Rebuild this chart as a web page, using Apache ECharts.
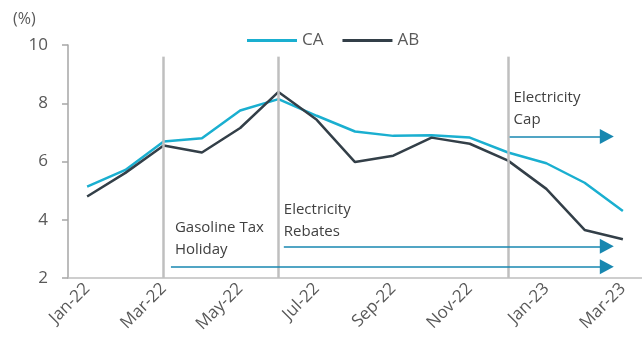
<!DOCTYPE html>
<html>
<head>
<meta charset="utf-8">
<script src="https://cdn.jsdelivr.net/npm/echarts@6/dist/echarts.min.js"></script>
<style>
  html, body { margin: 0; padding: 0; background: #fff; }
  #chart { width: 642px; height: 348px; }
</style>
</head>
<body>
<div id="chart"></div>
<script>
// months
var cats = ['Jan-22', 'Feb-22', 'Mar-22', 'Apr-22', 'May-22', 'Jun-22', 'Jul-22', 'Aug-22',
            'Sep-22', 'Oct-22', 'Nov-22', 'Dec-22', 'Jan-23', 'Feb-23', 'Mar-23'];
// inflation, %
var ca = [5.14, 5.71, 6.69, 6.80, 7.75, 8.14, 7.57, 7.03, 6.88, 6.90, 6.82, 6.31, 5.94, 5.27, 4.30];
var ab = [4.80, 5.61, 6.55, 6.31, 7.15, 8.39, 7.43, 5.98, 6.20, 6.82, 6.61, 6.03, 5.06, 3.65, 3.33];
var yTicks = [2, 4, 6, 8, 10];

// policy events
var eventCats = ['Mar-22', 'Jun-22', 'Dec-22'];
var eventNames = [['Gasoline Tax', 'Holiday'], ['Electricity', 'Rebates'], ['Electricity', 'Cap']];
var arrowStart = [2.19, 5.14, 11.04];   // category index units
var arrowLevel = [2.39, 3.09, 6.86];
var arrowEnd = 13.58;
var eventTop = 9.6;

var chart = echarts.init(document.getElementById('chart'));

var vLines = [];
var arrows = [];
for (var i = 0; i < eventCats.length; i++) {
  var ix = cats.indexOf(eventCats[i]);
  vLines.push([{ coord: [ix, eventTop] }, { coord: [ix, yTicks[0]] }]);
  arrows.push([{ coord: [arrowStart[i], arrowLevel[i]] }, { coord: [arrowEnd, arrowLevel[i]] }]);
}

var font = '"Open Sans", sans-serif';

var option = {
  animation: false,
  grid: { left: 68, right: 0, top: 45, bottom: 70 },
  legend: {
    data: ['CA', 'AB'],
    left: 242, top: 27,
    icon: 'rect', itemWidth: 50, itemHeight: 3, itemGap: 19,
    textStyle: { fontSize: 17, color: '#595959', fontFamily: font }
  },
  xAxis: [{
    type: 'category',
    data: cats,
    boundaryGap: true,
    axisLine: { lineStyle: { color: '#bfbfbf', width: 1.5 } },
    axisTick: { interval: 1, length: 6, lineStyle: { color: '#bfbfbf', width: 1.5 } },
    axisLabel: { interval: 1, rotate: 45, margin: 8, fontSize: 17, color: '#595959', fontFamily: font }
  }, {
    type: 'value', show: false, min: -0.5, max: cats.length - 0.5
  }],
  yAxis: {
    type: 'value',
    min: yTicks[0], max: yTicks[yTicks.length - 1], interval: 2,
    splitLine: { show: false },
    axisLine: { show: true, onZero: false, lineStyle: { color: '#a6a6a6', width: 1.5 } },
    axisTick: { show: true, length: 6, lineStyle: { color: '#a6a6a6', width: 1.5 } },
    axisLabel: { margin: 20, fontSize: 17, color: '#595959', fontFamily: font }
  },
  series: [
    {
      name: 'events', type: 'line', xAxisIndex: 1, data: [], silent: true, z: 1,
      markLine: {
        silent: true, symbol: ['none', 'none'], animation: false,
        label: { show: false },
        lineStyle: { color: '#bfbfbf', width: 2.5, type: 'solid' },
        data: vLines
      }
    },
    {
      name: 'arrows', type: 'line', xAxisIndex: 1, data: [], silent: true, z: 1,
      markLine: {
        silent: true, symbol: ['none', 'triangle'], symbolSize: [15, 14], animation: false,
        label: { show: false },
        lineStyle: { color: '#1787b0', width: 1.5, type: 'solid' },
        data: arrows
      }
    },
    {
      name: 'CA', type: 'line', data: ca, z: 3,
      showSymbol: false, symbol: 'none',
      color: '#1aafd0',
      lineStyle: { width: 2.5, color: '#1aafd0' }
    },
    {
      name: 'AB', type: 'line', data: ab, z: 4,
      showSymbol: false, symbol: 'none',
      color: '#333f48',
      lineStyle: { width: 2.5, color: '#333f48' }
    }
  ]
};
chart.setOption(option);

// event text, placed from the arrow starts
var texts = [{
  type: 'text', left: 13, top: 11,
  style: { text: '(%)', fontSize: 16, fill: '#595959', fontFamily: font }
}];
var offs = [[4, -50], [0, -48], [4, -50]];
for (var j = 0; j < eventNames.length; j++) {
  var p = chart.convertToPixel({ xAxisIndex: 1, yAxisIndex: 0 }, [arrowStart[j], arrowLevel[j]]);
  texts.push({
    type: 'text',
    x: p[0] + offs[j][0], y: p[1] + offs[j][1],
    style: {
      text: eventNames[j].join('\n'),
      fontSize: 15, lineHeight: 22, fill: '#404040', fontFamily: font,
      textVerticalAlign: 'top'
    }
  });
}
chart.setOption({ graphic: texts });
</script>
</body>
</html>
